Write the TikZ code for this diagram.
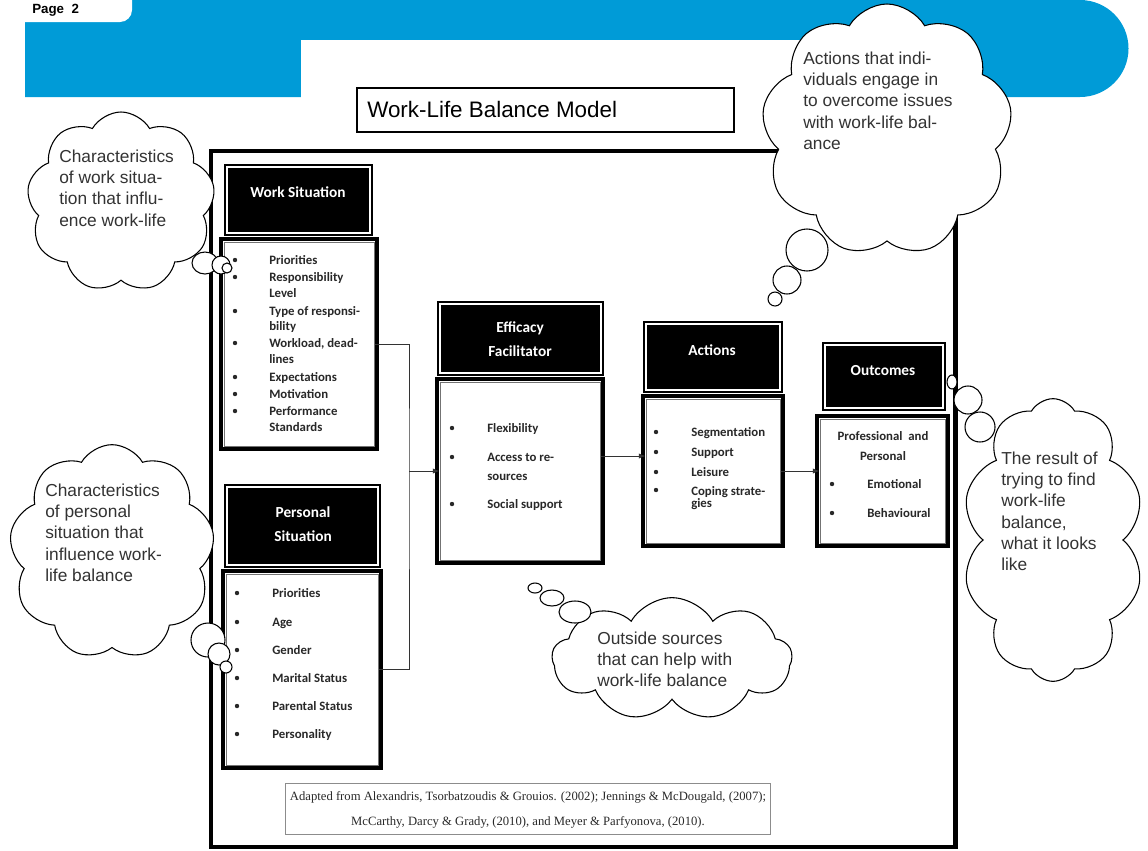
\documentclass[tikz,border=0pt]{standalone}
\usepackage{fontspec}
\setmainfont{Liberation Sans}
\newfontfamily\boxfont{Carlito}
\newfontfamily\citefont{Liberation Serif}
\usetikzlibrary{fit,shapes.symbols,arrows.meta}
\definecolor{bandblue}{RGB}{0,155,215}
\definecolor{ink}{RGB}{40,40,40}

\begin{document}
\begin{tikzpicture}[x=0.75pt,y=0.75pt,yscale=-1,xscale=1,
    headbox/.style={fill=black, draw=black, line width=1.5pt, double=white, double distance=0.9pt, inner sep=0pt},
    listbox/.style={fill=white, draw=white, line width=0.8pt, double=black!55, double distance=0.6pt, preaction={draw=black, line width=7pt}, inner sep=0pt},
    headtext/.style={text=white, font=\boxfont\bfseries\fontsize{11.5}{15}\selectfont, align=center, inner sep=0pt},
    item/.style={anchor=base west, inner sep=0pt, text=ink, font=\boxfont\bfseries\fontsize{9.6}{12}\selectfont},
    thought/.style={cloud, cloud puffs=9, cloud puff arc=120, cloud ignores aspect, draw=black, fill=white, line width=0.8pt, inner sep=0pt},
    cloudtext/.style={anchor=north west, align=left, inner sep=0pt, text=black!80, font=\fontsize{13}{15.8}\selectfont},
    tail/.style={draw=black, fill=white, line width=0.8pt},
    link/.style={draw=black!80, line width=0.6pt},
    ]
    \useasboundingbox (0,0) rectangle (1148,850);

    % Blue Band
    \fill[bandblue] (25,0) -- (1080,0) arc[start angle=-90, end angle=90, radius=48.5] -- (25,97) -- cycle;
    \fill[white] (301,40) rectangle (900,98);
    \fill[white, rounded corners=9] (-20,-20) rectangle (132,22);
    \node[anchor=base west, inner sep=0pt, font=\bfseries\fontsize{10}{12}\selectfont] (page) at (32,13) {Page\ \ 2};

    % Title
    \node[draw=black, line width=1.8pt, inner sep=0pt, fit={(357,88) (734,132)}] (title) {};
    \node[anchor=west, inner sep=0pt, font=\fontsize{16.8}{20}\selectfont] (title-t) at (367,109) {Work-Life Balance Model};

    % Outer Frame
    \draw[line width=3.6pt] (211,151) rectangle (955.5,847);

    % Work Situation
    \node[headbox, fit={(227,167) (370,233)}] (wtitle) {};
    \node[headtext] (wtitle-t) at (298,192) {Work Situation};
    \node[listbox, fit={(224,242) (374,446)}] (wlist) {};
    \foreach \y in {260,277,311,343,377,394,411}
        \fill[ink] (235,\y) circle (2.2);
    \foreach \y/\t [count=\i] in {260/Priorities, 277/Responsibility, 293/Level, 311/{Type of responsi-}, 326/bility, 343/{Workload, dead-}, 359/lines, 377/Expectations, 394/Motivation, 411/Performance, 427/Standards}
        \node[item] (wl-\i) at (269,\y+4) {\t};

    % Personal Situation
    \node[headbox, fit={(227,487) (378,565)}] (ptitle) {};
    \node[headtext] (ptitle-t) at (303,524) {Personal\\[3pt]Situation};
    \node[listbox, fit={(226,574) (378,765)}] (plist) {};
    \foreach \y/\t [count=\i] in {593/Priorities, 622/Age, 650/Gender, 678/Marital Status, 706/Parental Status, 734/Personality} {
        \fill[ink] (237,\y) circle (2.2);
        \node[item] (pl-\i) at (272,\y+4) {\t};
    }

    % Efficacy Facilitator
    \node[headbox, fit={(440,304) (601,373)}] (etitle) {};
    \node[headtext] (etitle-t) at (520,339) {Efficacy\\[3pt]Facilitator};
    \node[listbox, fit={(440,382) (600,560)}] (elist) {};
    \foreach \y in {428,457,504}
        \fill[ink] (452,\y) circle (2.2);
    \foreach \y/\t [count=\i] in {428/Flexibility, 457/Access to re-, 476/sources, 504/Social support}
        \node[item] (el-\i) at (487,\y+4) {\t};

    % Actions
    \node[headbox, fit={(646,324) (780,390)}] (atitle) {};
    \node[headtext] (atitle-t) at (712,350) {Actions};
    \node[listbox, fit={(646,399) (780,543)}] (alist) {};
    \foreach \y in {432,452,472,490}
        \fill[ink] (656,\y) circle (2.2);
    \foreach \y/\t [count=\i] in {432/Segmentation, 452/Support, 472/Leisure, 491/Coping strate-, 503/gies}
        \node[item] (al-\i) at (691,\y+4) {\t};

    % Outcomes
    \node[headbox, fit={(825,345) (943,408)}] (otitle) {};
    \node[headtext] (otitle-t) at (883,371) {Outcomes};
    \node[listbox, fit={(820,419) (945,543)}] (olist) {};
    \node[item, anchor=base] (ol-1) at (883,440) {Professional\ \ and};
    \node[item, anchor=base] (ol-2) at (883,460) {Personal};
    \foreach \y/\t [count=\i] in {484/Emotional, 513/Behavioural} {
        \fill[ink] (832,\y) circle (2.2);
        \node[item] (ol-b\i) at (867,\y+4) {\t};
    }

    % Connectors
    \coordinate (join) at (409,471);
    \coordinate (step) at (0,456);
    \draw[link] (wlist.east) -| (join) |- (plist.east);
    \draw[link, -{Latex[length=5pt,width=4pt]}] (join) -- (elist.west |- join);
    \draw[link, -{Latex[length=5pt,width=4pt]}] (elist.east |- step) -- (alist.west |- step);
    \draw[link, -{Latex[length=5pt,width=4pt]}] (alist.east) -- (olist.west |- alist.east);

    % Source
    \node[draw=black!45, line width=0.6pt, inner sep=0pt, fit={(285,783) (770,834)}] (cite) {};
    \node[inner sep=0pt, text=ink, font=\citefont\fontsize{9.5}{12}\selectfont] (cite-1) at (528,797) {Adapted from Alexandris, Tsorbatzoudis \& Grouios. (2002); Jennings \& McDougald, (2007);};
    \node[inner sep=0pt, text=ink, font=\citefont\fontsize{9.5}{12}\selectfont] (cite-2) at (528,822) {McCarthy, Darcy \& Grady, (2010), and Meyer \& Parfyonova, (2010).};

    % Thought Clouds
    \node[thought, minimum width=141pt, minimum height=135pt] (cl-work) at (121,202) {};
    \node[cloudtext] (ct-work) at (59,150) {Characteristics\\of work situa-\\tion that influ-\\ence work-life};
    \draw[tail] (205,263) ellipse [x radius=13, y radius=11];
    \draw[tail] (221,265) circle (9);
    \draw[tail] (227,268) circle (5);

    \node[thought, minimum width=154pt, minimum height=161pt] (cl-pers) at (112,552) {};
    \node[cloudtext] (ct-pers) at (45,484) {Characteristics\\of personal\\situation that\\influence work-\\life balance};
    \draw[tail] (208,640) circle (17);
    \draw[tail] (219,654) circle (11);
    \draw[tail] (226,667) circle (6);

    \node[thought, minimum width=188pt, minimum height=189pt] (cl-act) at (887,130) {};
    \node[cloudtext] (ct-act) at (803,52) {Actions that indi-\\viduals engage in\\to overcome issues\\with work-life bal-\\ance};
    \draw[tail] (807,250) circle (21);
    \draw[tail] (787,280) circle (14);
    \draw[tail] (775,299) circle (7);

    \node[thought, cloud puffs=10, minimum width=136pt, minimum height=212pt] (cl-res) at (1053,540) {};
    \node[cloudtext] (ct-res) at (1001,452) {The result of\\trying to find\\work-life\\balance,\\what it looks\\like};
    \draw[tail] (952,382) ellipse [x radius=5, y radius=7];
    \draw[tail] (968,400) circle (14);
    \draw[tail] (980,427) circle (15);

    \node[thought, minimum width=180pt, minimum height=92pt] (cl-out) at (672,659) {};
    \node[cloudtext] (ct-out) at (597,632) {Outside sources\\that can help with\\work-life balance};
    \draw[tail] (535,588) ellipse [x radius=7, y radius=5];
    \draw[tail] (552,598) ellipse [x radius=12, y radius=8];
    \draw[tail] (575,612) ellipse [x radius=16, y radius=11];

\end{tikzpicture}
\end{document}
